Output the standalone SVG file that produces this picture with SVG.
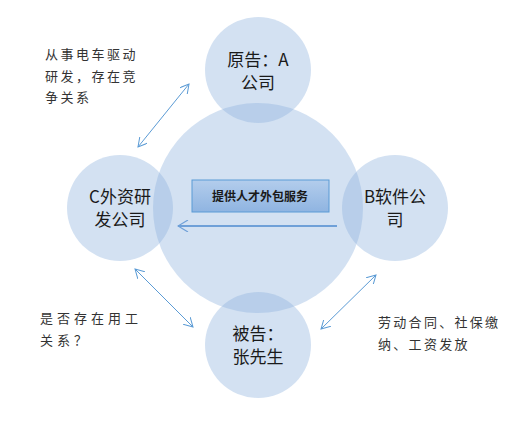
<svg xmlns="http://www.w3.org/2000/svg" width="528" height="422" viewBox="0 0 528 422">
<style>
.c{fill:#8db1dd;fill-opacity:0.39}
.ct{font-family:"Noto Sans CJK SC","Liberation Sans",sans-serif;font-size:17px;fill:#1a1a1a;text-anchor:middle}
.an{font-family:"Noto Sans CJK SC","Liberation Sans",sans-serif;font-size:13px;fill:#333}
.dl{stroke:#5b9bd5;stroke-width:1;fill:none}
</style>
<defs>
<marker id="ah" viewBox="0 0 10 10" refX="9" refY="5" markerWidth="10" markerHeight="10" markerUnits="userSpaceOnUse" orient="auto-start-reverse">
<path d="M0,0 L9,5 L0,10" fill="none" stroke="#5b9bd5" stroke-width="1"/>
</marker>
<marker id="ah2" viewBox="0 0 12 12" refX="11" refY="6" markerWidth="12" markerHeight="12" markerUnits="userSpaceOnUse" orient="auto">
<path d="M1,0 L11,6 L1,12" fill="none" stroke="#6fa0d8" stroke-width="1.2"/>
</marker>
<linearGradient id="g" x1="0" y1="0" x2="0" y2="1">
<stop offset="0" stop-color="#b3cdec"/>
<stop offset="1" stop-color="#8fb4e1"/>
</linearGradient>
</defs>
<g id="center"><circle class="c" cx="258" cy="208" r="105"/></g>
<g id="nodeA"><circle class="c" cx="258" cy="70" r="53"/>
<text class="ct" x="258" y="66">原告：A</text><text class="ct" x="258" y="89">公司</text></g>
<g id="nodeC"><circle class="c" cx="120" cy="208" r="53"/>
<text class="ct" x="120" y="203">C外资研</text><text class="ct" x="120" y="226">发公司</text></g>
<g id="nodeB"><circle class="c" cx="395" cy="208" r="53"/>
<text class="ct" x="395" y="203">B软件公</text><text class="ct" x="395" y="226">司</text></g>
<g id="nodeD"><circle class="c" cx="258" cy="345" r="53"/>
<text class="ct" x="258" y="340">被告：</text><text class="ct" x="258" y="363">张先生</text></g>
<g id="service">
<rect x="192" y="180" width="137" height="32" fill="url(#g)" stroke="#5b9bd5" stroke-width="1"/>
<text x="260" y="201" text-anchor="middle" font-family="'Noto Sans CJK SC','Liberation Sans',sans-serif" font-size="12" font-weight="bold" fill="#1a1a1a">提供人才外包服务</text>
</g>
<g id="connectors">
<line x1="337" y1="226" x2="178" y2="226" stroke="#6fa0d8" stroke-width="2" marker-end="url(#ah2)"/>
<line class="dl" x1="138" y1="147" x2="189" y2="84" marker-start="url(#ah)" marker-end="url(#ah)"/>
<line class="dl" x1="135" y1="269" x2="193" y2="327" marker-start="url(#ah)" marker-end="url(#ah)"/>
<line class="dl" x1="376" y1="275" x2="321" y2="329" marker-start="url(#ah)" marker-end="url(#ah)"/>
</g>
<g id="labels">
<text class="an" x="45" y="59" letter-spacing="2.5">从事电车驱动</text>
<text class="an" x="45" y="81" letter-spacing="2.5">研发，存在竞</text>
<text class="an" x="45" y="102" letter-spacing="2.5">争关系</text>
<text class="an" x="40" y="323" letter-spacing="4">是否存在用工</text>
<text class="an" x="40" y="345" letter-spacing="4">关系？</text>
<text class="an" x="378" y="327" letter-spacing="2.3">劳动合同、社保缴</text>
<text class="an" x="378" y="349" letter-spacing="2.3">纳、工资发放</text>
</g>
</svg>
